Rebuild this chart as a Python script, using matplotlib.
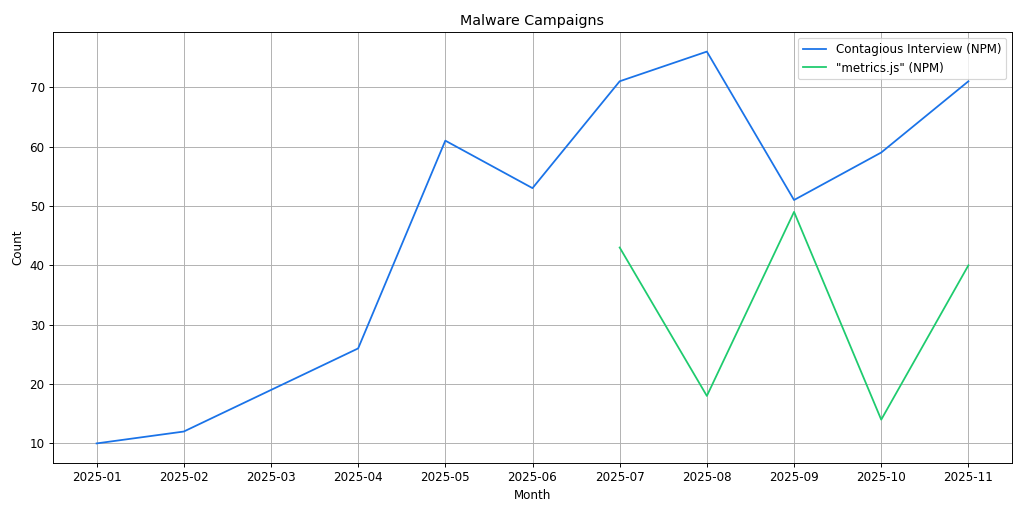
import matplotlib
matplotlib.use("Agg")
import matplotlib.pyplot as plt

months = ["2025-01", "2025-02", "2025-03", "2025-04", "2025-05", "2025-06",
          "2025-07", "2025-08", "2025-09", "2025-10", "2025-11"]
contagious = [10, 12, 19, 26, 61, 53, 71, 76, 51, 59, 71]
metrics_months = ["2025-07", "2025-08", "2025-09", "2025-10", "2025-11"]
metrics = [43, 18, 49, 14, 40]

DPI = 1024 / 12
fig, ax = plt.subplots(figsize=(12, 6), dpi=DPI)
ax.plot(months, contagious, color="#1a73e8", label="Contagious Interview (NPM)")
ax.plot(metrics_months, metrics, color="#1ecb6e", label='"metrics.js" (NPM)')
ax.set_title("Malware Campaigns")
ax.set_xlabel("Month")
ax.set_ylabel("Count")
ax.grid(True)
ax.legend(loc="upper right")
fig.subplots_adjust(left=53 / 1024, right=1012 / 1024, top=1 - 32 / 512, bottom=1 - 463 / 512)
fig.savefig("out.png", dpi=DPI)
